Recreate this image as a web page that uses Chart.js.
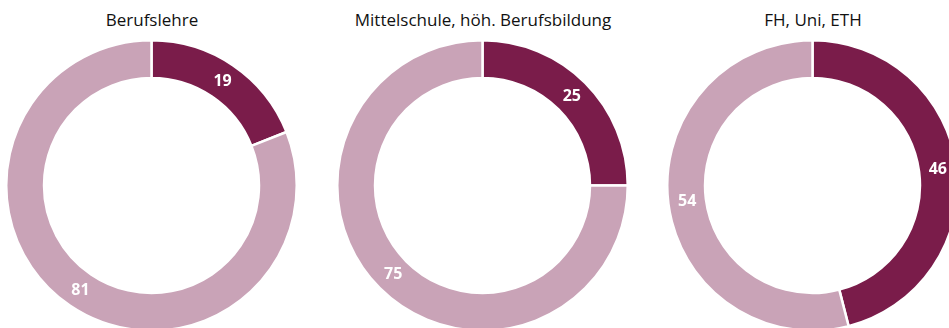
<!DOCTYPE html>
<html>
<head>
<meta charset="utf-8">
<script src="https://cdn.jsdelivr.net/npm/chart.js@4"></script>
<style>
  html, body { margin: 0; padding: 0; background: #fff; overflow: hidden; }
  body { width: 949px; height: 328px; position: relative; font-family: "Open Sans", sans-serif; }
  .panel { position: absolute; top: 0; width: 330px; height: 340px; }
  .panel h2 { position: absolute; left: 0; right: 0; top: 8px; margin: 0; text-align: center;
              font-weight: normal; font-size: 17px; color: #111; white-space: nowrap; }
  .panel .ring { position: absolute; left: 18px; top: 39px; width: 293px; height: 293px; }
</style>
</head>
<body>
<div class="panel" style="left:-13px"><h2 id="t0"></h2><div class="ring"><canvas id="c0"></canvas></div></div>
<div class="panel" style="left:318px"><h2 id="t1"></h2><div class="ring"><canvas id="c1"></canvas></div></div>
<div class="panel" style="left:648px"><h2 id="t2"></h2><div class="ring"><canvas id="c2"></canvas></div></div>
<script>
// Share by education level (percent)
const groups = ['Berufslehre', 'Mittelschule, höh. Berufsbildung', 'FH, Uni, ETH'];
const shareYes = [19, 25, 46];
const shareNo = [81, 75, 54];

const darkColor = '#7a1c4a';
const lightColor = '#c9a3b7';

// white value labels at the middle of each arc
const arcLabels = {
    id: 'arcLabels',
    afterDatasetsDraw(chart) {
        const ctx = chart.ctx;
        const meta = chart.getDatasetMeta(0);
        const values = chart.data.datasets[0].data;
        ctx.save();
        ctx.fillStyle = '#fff';
        ctx.font = 'bold 16px "Open Sans", sans-serif';
        ctx.textAlign = 'center';
        ctx.textBaseline = 'middle';
        meta.data.forEach((arc, i) => {
            const p = arc.getCenterPoint();
            ctx.fillText(values[i], p.x, p.y);
        });
        ctx.restore();
    }
};

groups.forEach((name, i) => {
    document.getElementById('t' + i).textContent = name;
    new Chart(document.getElementById('c' + i), {
        type: 'doughnut',
        data: {
            labels: ['Ja', 'Nein'],
            datasets: [{
                data: [shareYes[i], shareNo[i]],
                backgroundColor: [darkColor, lightColor],
                borderColor: '#fff',
                borderWidth: 2.5
            }]
        },
        options: {
            responsive: true,
            maintainAspectRatio: false,
            animation: false,
            cutout: '74%',
            layout: { padding: 0 },
            plugins: { legend: { display: false }, tooltip: { enabled: false } }
        },
        plugins: [arcLabels]
    });
});
</script>
</body>
</html>
